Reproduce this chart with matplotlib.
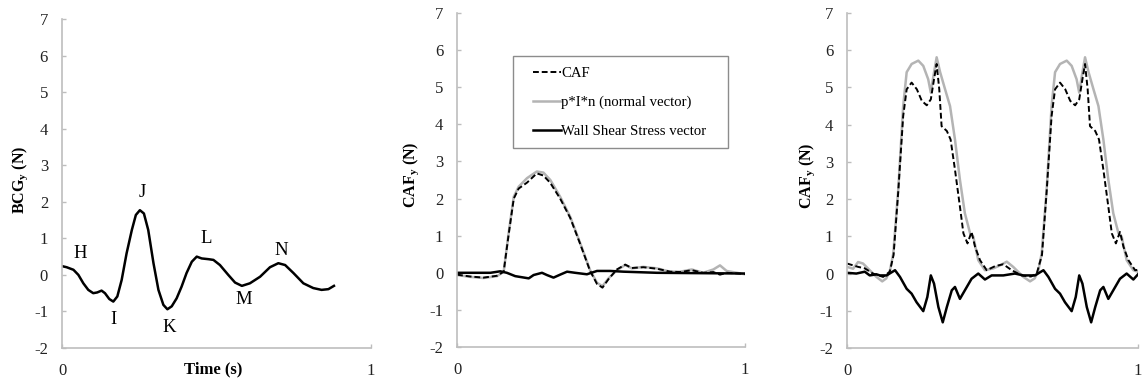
import matplotlib
matplotlib.use("Agg")
import matplotlib.pyplot as plt
from matplotlib.patches import Rectangle

plt.rcParams['font.family'] = ['Liberation Serif', 'DejaVu Serif']
plt.rcParams['mathtext.fontset'] = 'custom'
plt.rcParams['mathtext.rm'] = 'Liberation Serif'
plt.rcParams['mathtext.it'] = 'Liberation Serif:italic'
plt.rcParams['mathtext.bf'] = 'Liberation Serif:bold'
plt.rcParams['mathtext.default'] = 'bf'
plt.rcParams['axes.unicode_minus'] = False

# --- panel 1: BCG ---
bcg_t = [0.0, 0.015, 0.037, 0.053, 0.069, 0.085, 0.101, 0.114, 0.128, 0.139,
         0.153, 0.166, 0.179, 0.193, 0.209, 0.226, 0.239, 0.252, 0.265, 0.279,
         0.296, 0.312, 0.328, 0.341, 0.355, 0.371, 0.387, 0.403, 0.42, 0.436,
         0.452, 0.474, 0.49, 0.511, 0.538, 0.56, 0.582, 0.608, 0.641, 0.673,
         0.7, 0.722, 0.749, 0.781, 0.813, 0.84, 0.862, 0.88]
bcg_y = [0.24, 0.21, 0.14, 0.0, -0.23, -0.41, -0.5, -0.48, -0.43, -0.5,
         -0.66, -0.73, -0.59, -0.14, 0.59, 1.23, 1.64, 1.77, 1.68, 1.23,
         0.32, -0.41, -0.82, -0.94, -0.86, -0.64, -0.32, 0.05, 0.36, 0.5,
         0.45, 0.43, 0.41, 0.27, 0.0, -0.21, -0.3, -0.23, -0.05, 0.21,
         0.32, 0.27, 0.05, -0.23, -0.36, -0.41, -0.39, -0.3]
peak_names = ['H', 'I', 'J', 'K', 'L', 'M', 'N']
peak_x = [0.059, 0.167, 0.259, 0.347, 0.468, 0.587, 0.711]
peak_y = [0.59, -1.23, 2.25, -1.45, 1.0, -0.68, 0.68]

# --- panel 2: CAF over one beat ---
caf2_t = [0.0, 0.046, 0.092, 0.139, 0.162, 0.179, 0.197, 0.214, 0.243, 0.277,
          0.3, 0.324, 0.358, 0.393, 0.428, 0.462, 0.486, 0.505, 0.526, 0.555,
          0.584, 0.607, 0.647, 0.694, 0.74, 0.775, 0.815, 0.855, 0.89, 0.913,
          0.936, 1.0]
caf2_y = [-0.05, -0.1, -0.13, -0.08, 0.03, 1.02, 2.0, 2.27, 2.43, 2.68,
          2.62, 2.42, 2.0, 1.48, 0.77, 0.05, -0.3, -0.4, -0.17, 0.09,
          0.22, 0.13, 0.15, 0.11, 0.03, 0.02, 0.07, 0.0, 0.02, -0.05,
          0.0, -0.03]
pin2_y = [-0.06, -0.11, -0.14, -0.09, 0.03, 1.06, 2.05, 2.32, 2.55, 2.73,
          2.7, 2.5, 2.05, 1.51, 0.79, 0.07, -0.27, -0.36, -0.15, 0.07,
          0.21, 0.12, 0.16, 0.12, 0.03, 0.03, 0.09, 0.0, 0.09, 0.2,
          0.05, -0.04]
wss2_t = [0.0, 0.116, 0.15, 0.173, 0.202, 0.249, 0.266, 0.295, 0.312, 0.335,
          0.358, 0.382, 0.41, 0.451, 0.486, 0.532, 0.578, 0.694, 1.0]
wss2_y = [0.0, 0.0, 0.04, 0.0, -0.09, -0.15, -0.06, 0.0, -0.06, -0.13,
          -0.05, 0.03, 0.0, -0.04, 0.05, 0.05, 0.03, 0.0, -0.02]

# --- panel 3: CAF over two beats ---
pin3_t = [0.0, 0.021, 0.038, 0.055, 0.078, 0.101, 0.121, 0.135, 0.148, 0.159,
          0.176, 0.193, 0.205, 0.222, 0.245, 0.262, 0.279, 0.288, 0.297, 0.308,
          0.32, 0.337, 0.354, 0.371, 0.388, 0.405, 0.423, 0.434, 0.451, 0.474,
          0.503, 0.526, 0.549, 0.571, 0.606, 0.629, 0.645,
          0.658, 0.669, 0.686, 0.703, 0.715, 0.732, 0.755, 0.772, 0.789, 0.798,
          0.807, 0.818, 0.83, 0.847, 0.864, 0.881, 0.898, 0.915, 0.933, 0.944,
          0.961, 0.984, 1.0]
pin3_y = [0.18, 0.13, 0.31, 0.27, 0.09, -0.09, -0.21, -0.13, 0.1, 0.54,
          2.25, 4.5, 5.41, 5.63, 5.72, 5.58, 5.22, 4.86, 5.31, 5.81,
          5.41, 4.95, 4.5, 3.6, 2.52, 1.62, 1.08, 0.99, 0.36, 0.09,
          0.14, 0.22, 0.32, 0.18, -0.09, -0.21, -0.13,
          0.1, 0.54, 2.25, 4.5, 5.41, 5.63, 5.72, 5.58, 5.22, 4.86,
          5.31, 5.81, 5.41, 4.95, 4.5, 3.6, 2.52, 1.62, 1.08, 0.99,
          0.36, 0.09, 0.05]
caf3_t = [0.0, 0.021, 0.038, 0.061, 0.089, 0.124, 0.147, 0.16, 0.176, 0.193,
          0.205, 0.222, 0.24, 0.257, 0.274, 0.288, 0.299, 0.308, 0.317, 0.325,
          0.343, 0.356, 0.371, 0.388, 0.4, 0.414, 0.428, 0.44, 0.457, 0.48,
          0.509, 0.537, 0.566, 0.6, 0.632, 0.652,
          0.67, 0.686, 0.703, 0.715, 0.732, 0.75, 0.767, 0.784, 0.798, 0.809,
          0.818, 0.827, 0.835, 0.853, 0.866, 0.881, 0.898, 0.91, 0.924, 0.938,
          0.95, 0.967, 0.99, 1.0]
caf3_y = [0.27, 0.22, 0.18, 0.14, 0.0, -0.09, 0.05, 0.5, 2.2, 4.23,
          4.95, 5.13, 4.95, 4.64, 4.52, 4.68, 5.22, 5.63, 4.95, 3.96,
          3.83, 3.6, 2.79, 1.8, 1.08, 0.81, 1.12, 0.72, 0.36, 0.09,
          0.2, 0.25, 0.09, -0.05, -0.08, 0.0,
          0.5, 2.2, 4.23, 4.95, 5.13, 4.95, 4.64, 4.52, 4.68, 5.22,
          5.63, 4.95, 3.96, 3.83, 3.6, 2.79, 1.8, 1.08, 0.81, 1.12,
          0.72, 0.36, 0.09, 0.1]
wss3_t = [0.0, 0.032, 0.061, 0.078, 0.101, 0.113, 0.136, 0.165, 0.182, 0.205,
          0.222, 0.239, 0.262, 0.276, 0.288, 0.299, 0.314, 0.329, 0.343, 0.36,
          0.371, 0.388, 0.405, 0.428, 0.451, 0.474, 0.497, 0.537, 0.577, 0.606,
          0.629, 0.646,
          0.675, 0.692, 0.715, 0.732, 0.749, 0.772, 0.786, 0.798, 0.809, 0.824,
          0.839, 0.853, 0.87, 0.881, 0.898, 0.915, 0.938, 0.961, 0.984, 1.0]
wss3_y = [0.02, 0.0, 0.05, -0.05, -0.02, -0.05, -0.05, 0.09, -0.09, -0.41,
          -0.54, -0.77, -1.01, -0.63, -0.05, -0.27, -0.9, -1.31, -0.9, -0.45,
          -0.36, -0.68, -0.45, -0.14, 0.0, -0.16, -0.05, -0.05, 0.0, -0.05,
          -0.05, -0.05,
          0.09, -0.09, -0.41, -0.54, -0.77, -1.01, -0.63, -0.05, -0.27, -0.9,
          -1.31, -0.9, -0.45, -0.36, -0.68, -0.45, -0.14, 0.0, -0.16, -0.02]

legend_labels = ['CAF', 'p*I*n (normal vector)', 'Wall Shear Stress vector']

spine_grey = '#bdbdbd'
line_grey = '#b4b4b4'
lw = 1.8
dash = (0, (3, 1.5))

fig = plt.figure(figsize=(11.42, 3.81), dpi=100)
ax1 = fig.add_axes([0.0543, 0.0866, 0.2706, 0.8635])
ax2 = fig.add_axes([0.4002, 0.0892, 0.2522, 0.8766])
ax3 = fig.add_axes([0.7417, 0.0866, 0.2548, 0.8793])


def style(ax):
    ax.set_xlim(0, 1)
    ax.set_ylim(-2, 7)
    ax.set_xticks([0, 1])
    ax.set_yticks(range(-2, 8))
    for s in ['top', 'right']:
        ax.spines[s].set_visible(False)
    for s in ['left', 'bottom']:
        ax.spines[s].set_color(spine_grey)
        ax.spines[s].set_linewidth(1.2)
    ax.tick_params(direction='in', length=3, width=1, color=spine_grey,
                   labelsize=12, labelcolor='#222222')
    ax.tick_params(axis='y', pad=10)
    ax.tick_params(axis='x', pad=11)


def curve(ax, t, y, **kw):
    ax.plot(t, y, solid_joinstyle='round', dash_joinstyle='round', **kw)


# panel 1
curve(ax1, bcg_t, bcg_y, color='black', lw=lw)
for name, px, py in zip(peak_names, peak_x, peak_y):
    ax1.text(px, py, name, fontsize=13.5, ha='center', va='center')
style(ax1)
ax1.set_ylabel('BCG$_y$ (N)', fontsize=11.5, fontweight='bold')
ax1.yaxis.set_label_coords(-0.105, 0.51)
ax1.set_xlabel('Time (s)', fontsize=12, fontweight='bold')
ax1.xaxis.set_label_coords(0.49, -0.04)

# panel 2
curve(ax2, caf2_t, pin2_y, color=line_grey, lw=lw, label=legend_labels[1])
curve(ax2, caf2_t, caf2_y, color='black', lw=1.4, ls=dash, label=legend_labels[0])
curve(ax2, wss2_t, wss2_y, color='black', lw=lw, label=legend_labels[2])
style(ax2)
ax2.set_ylabel('CAF$_y$ (N)', fontsize=11.5, fontweight='bold')
ax2.yaxis.set_label_coords(-0.125, 0.515)
h, l = ax2.get_legend_handles_labels()
order = [1, 0, 2]
ax2.legend([h[i] for i in order], [l[i] for i in order],
           loc='upper left', bbox_to_anchor=(0.265, 0.84),
           fontsize=10.6, frameon=False, handlelength=1.85,
           handletextpad=0.05, labelspacing=1.07,
           borderpad=0, borderaxespad=0)
ax2.add_patch(Rectangle((0.194, 0.596), 0.747, 0.275, transform=ax2.transAxes,
                        fill=False, edgecolor='#8c8c8c', lw=1.0, zorder=5))

# panel 3
curve(ax3, pin3_t, pin3_y, color=line_grey, lw=lw)
curve(ax3, caf3_t, caf3_y, color='black', lw=1.4, ls=dash)
curve(ax3, wss3_t, wss3_y, color='black', lw=lw)
style(ax3)
ax3.set_ylabel('CAF$_y$ (N)', fontsize=11.5, fontweight='bold')
ax3.yaxis.set_label_coords(-0.103, 0.515)

fig.savefig('out.png', dpi=100)
